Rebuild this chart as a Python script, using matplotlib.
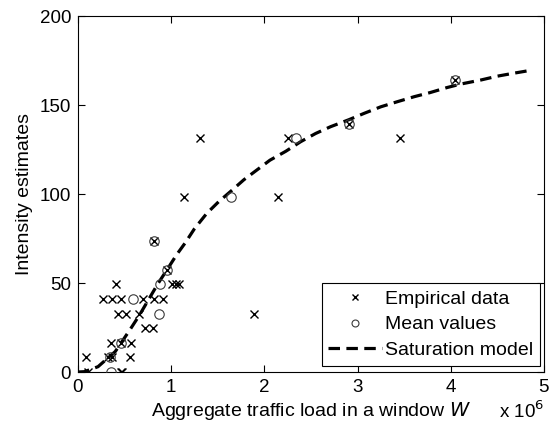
import matplotlib
matplotlib.use("Agg")
import matplotlib.pyplot as plt
from matplotlib.lines import Line2D

plt.rcParams['font.family'] = ['Liberation Sans', 'DejaVu Sans']

# Empirical data (x in units of 10^6)
emp_x = [0.107, 0.46, 0.47,
         0.09, 0.32, 0.36, 0.556,
         0.35, 0.466, 0.57,
         0.72, 0.81,
         0.43, 0.51, 0.66, 1.89,
         0.27, 0.365, 0.466, 0.70, 0.82, 0.91,
         0.41, 1.01, 1.05, 1.08,
         0.95, 0.82,
         1.14, 2.15,
         1.31, 2.25, 3.46,
         2.91, 4.05]
emp_y = [0, 0, 0,
         8.2, 8.2, 8.2, 8.2,
         16.4, 16.4, 16.4,
         24.6, 24.6,
         32.8, 32.8, 32.8, 32.8,
         41, 41, 41, 41, 41, 41,
         49.2, 49.2, 49.2, 49.2,
         57.4, 73.8,
         98.4, 98.4,
         131.2, 131.2, 131.2,
         139.4, 164]

# Mean values
mean_x = [0.35, 0.34, 0.466, 0.87, 0.59, 0.88, 0.95, 0.82, 1.645, 2.34, 2.91, 4.05]
mean_y = [0, 8.2, 16.4, 32.8, 41, 49.2, 57.4, 73.8, 98.4, 131.2, 139.4, 164]

# Saturation model curve
model_x = [0.0, 0.07, 0.215, 0.40, 0.556, 0.66, 0.86, 0.95, 1.06, 1.15, 1.25, 1.38, 1.51,
           1.65, 1.78, 1.92, 2.06, 2.23, 2.39, 2.55, 2.71, 2.91, 3.07, 3.25, 3.43,
           3.61, 3.78, 3.96, 4.11, 4.32, 4.50, 4.68, 4.86]
model_y = [0.0, 0.2, 3.0, 11.5, 23.6, 32.0, 49.8, 57.0, 66.0, 72.5, 80.5, 89.0, 95.7,
           102.0, 108.0, 113.5, 119.0, 124.0, 129.4, 134.0, 137.8, 141.8, 145.3, 149.0, 151.9,
           154.7, 157.0, 159.8, 161.8, 164.0, 166.2, 167.9, 169.5]

xticks = [0, 1, 2, 3, 4, 5]
yticks = [0, 50, 100, 150, 200]

fig = plt.figure(figsize=(5.59, 4.28), dpi=100)
ax = fig.add_axes([0.1395, 0.1308, 0.8335, 0.8318])

dash = (0, (3.6, 2.0))
ax.plot(model_x, model_y, color='black', linestyle=dash, linewidth=2.3,
        label='Saturation model', zorder=2)
ax.plot(emp_x, emp_y, linestyle='none', marker='x', markersize=6.2, markeredgewidth=1.0,
        color='black', label='Empirical data', zorder=3)
ax.plot(mean_x, mean_y, linestyle='none', marker='o', markersize=6.8, markeredgewidth=0.8,
        markerfacecolor='none', markeredgecolor='#3a3a3a', label='Mean values', zorder=3)

ax.set_xlim(0, 5)
ax.set_ylim(0, 200)
ax.set_xticks(xticks)
ax.set_yticks(yticks)
ax.set_xticklabels([str(t) for t in xticks])
ax.set_yticklabels([str(t) for t in yticks])
ax.tick_params(direction='in', top=True, right=True, labelsize=13.5, length=5, width=0.8, pad=5)
for s in ax.spines.values():
    s.set_linewidth(0.8)

ax.set_ylabel('Intensity estimates', fontsize=14, labelpad=5)
ax.set_xlabel('Aggregate traffic load in a window $\\mathit{W}$', fontsize=14, labelpad=3)
fig.text(0.893, 0.014, 'x 10$^{6}$', fontsize=13.5, ha='left', va='bottom')

handles = [
    Line2D([], [], linestyle='none', marker='x', markersize=5, markeredgewidth=1.0, color='black'),
    Line2D([], [], linestyle='none', marker='o', markersize=5, markeredgewidth=0.8,
           markerfacecolor='none', markeredgecolor='#3a3a3a'),
    Line2D([], [], color='black', linestyle=dash, linewidth=2.3),
]
labels = ['Empirical data', 'Mean values', 'Saturation model']
leg = ax.legend(handles, labels, loc='lower right', bbox_to_anchor=(0.991, 0.017),
                fontsize=14, frameon=True, fancybox=False,
                edgecolor='black', framealpha=1, handlelength=2.75, handletextpad=0.15,
                borderpad=0.35, labelspacing=0.42, borderaxespad=0.0)
leg.get_frame().set_linewidth(0.8)

fig.savefig('out.png', dpi=100)
